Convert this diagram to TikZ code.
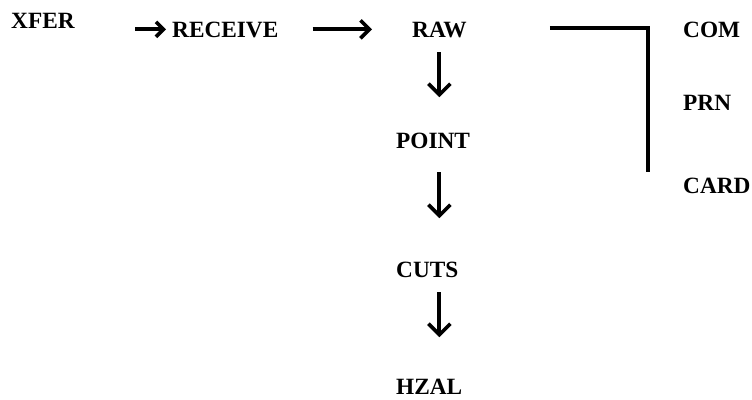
\documentclass[tikz,border=0pt]{standalone}
\usepackage{fontspec}
\setmainfont{Liberation Serif}
\usetikzlibrary{arrows.meta,calc}

\begin{document}
\begin{tikzpicture}[x=1pt,y=1pt,
  lbl/.style={anchor=base west, inner sep=0pt, text height=15.4pt, text depth=0pt,
              font=\fontsize{23.3}{28}\selectfont\bfseries},
  vec/.style={line width=3.8pt, -{Straight Barb[length=#1pt,width=2*#1pt,line width=3.6pt]}},
  vec/.default=11,
  brk/.style={line width=3.8pt}]
\useasboundingbox (0,0) rectangle (752,-399);

% program names
\node[lbl] (xfer)    at (11,-28)   {XFER};
\node[lbl] (receive) at (172,-37)  {RECEIVE};
\node[lbl] (raw)     at (412,-37)  {RAW};
\node[lbl] (point)   at (396,-148) {POINT};
\node[lbl] (cuts)    at (396,-277) {CUTS};
\node[lbl] (hzal)    at (396,-394) {HZAL};
\node[lbl] (com)     at (683,-37)  {COM};
\node[lbl] (prn)     at (683,-110) {PRN};
\node[lbl] (card)    at (683,-193) {CARD};

% horizontal flow
\draw[vec=7.5] ([xshift=-37pt]receive.west) -- ([xshift=-6pt]receive.west);
\draw[vec=9] ([xshift=34pt]receive.east) -- ([xshift=-40pt]raw.west);

% vertical flow
\draw[vec] ([yshift=-15pt]raw.south) -- ([yshift=-60pt]raw.south);
\draw[vec] ($(raw.south |- point.south)+(0,-24)$) -- ($(raw.south |- point.south)+(0,-70)$);
\draw[vec] ($(raw.south |- cuts.south)+(0,-15)$) -- ($(raw.south |- cuts.south)+(0,-60)$);

% output branch
\draw[brk] ([xshift=83pt,yshift=1pt]raw.east) -| ([xshift=-35pt,yshift=5pt]card.north west);
\end{tikzpicture}
\end{document}
